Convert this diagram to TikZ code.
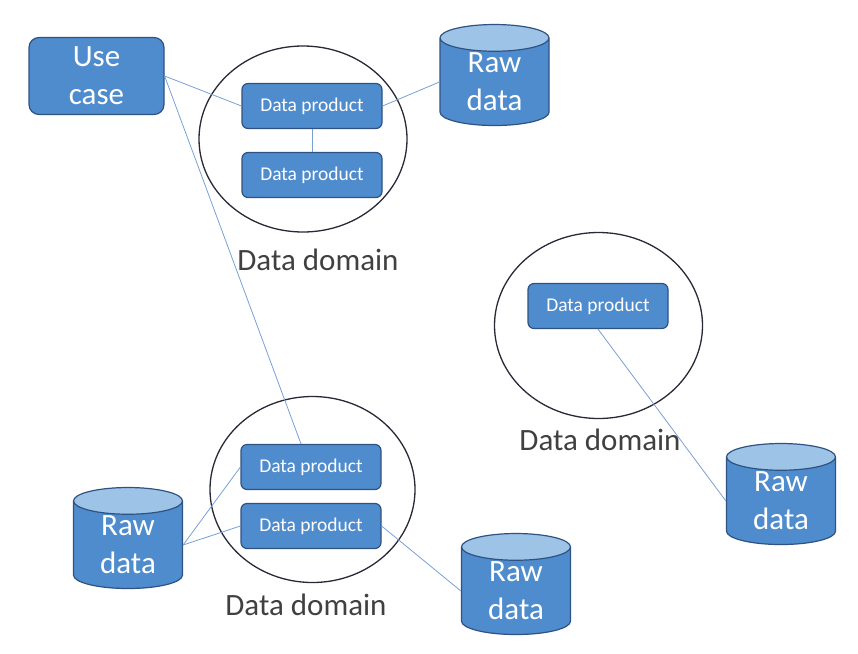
\documentclass[tikz,border=0pt]{standalone}
\usepackage{fontspec}
\setmainfont{Carlito}
\usepackage{xcolor}
\definecolor{prodblue}{RGB}{79,140,205}
\definecolor{edgeblue}{RGB}{47,82,130}
\definecolor{capblue}{RGB}{157,195,230}
\definecolor{linkblue}{RGB}{120,160,215}
\definecolor{ringgray}{RGB}{40,40,55}
\definecolor{labelgray}{RGB}{64,64,64}
\usetikzlibrary{shapes.geometric}

\begin{document}
\begin{tikzpicture}[x=1pt,y=-1pt,
  product/.style={draw=edgeblue, fill=prodblue, rounded corners=6pt, line width=1.2pt,
    minimum width=140pt, minimum height=45pt, text=white, inner sep=0pt,
    font=\fontsize{19.5}{23}\selectfont},
  usecase/.style={product, rounded corners=10pt, minimum width=135pt, minimum height=77pt,
    align=center, font=\fontsize{31}{38}\selectfont},
  rawdata/.style={cylinder, shape border rotate=90, aspect=0.48, draw=edgeblue,
    line width=1.2pt, cylinder uses custom fill, cylinder body fill=prodblue,
    cylinder end fill=capblue, minimum width=109pt, minimum height=101pt,
    inner sep=0pt, text=white, align=center, font=\fontsize{31}{38}\selectfont},
  dombubble/.style={ellipse, draw=ringgray, line width=1.3pt, inner sep=0pt,
    minimum width=208pt, minimum height=186pt},
  domlabel/.style={anchor=base, text=labelgray, font=\fontsize{31}{38}\selectfont},
  link/.style={draw=linkblue, line width=0.8pt}]
  \useasboundingbox (0,0) rectangle (858,653);

  \node[dombubble] (dom1) at (303,139) {};
  \node[dombubble] (dom2) at (598.5,325.5) {};
  \node[dombubble, minimum width=205pt] (dom3) at (312.5,489.5) {};

  \node[usecase] (uc) at (96.5,76) {Use\\case};

  \node[product] (dp1) at (312,106) {Data product};
  \node[product] (dp2) at (312,175) {Data product};
  \node[product] (dp3) at (598,306) {Data product};
  \node[product] (dpa) at (311,467) {Data product};
  \node[product] (dpb) at (311,526) {Data product};

  \node[domlabel] (lab1) at (318,270) {Data domain};
  \node[domlabel] (lab2) at (600,450) {Data domain};
  \node[domlabel] (lab3) at (306,615) {Data domain};

  \node[rawdata] (raw1) at (494.5,82) {Raw\\data};
  \node[rawdata] (raw2) at (781,501) {Raw\\data};
  \node[rawdata] (rawl) at (128,545) {Raw\\data};
  \node[rawdata] (rawb) at (516,591) {Raw\\data};

  \path[link] (uc.east) -- (dp1.west);
  \path[link] (uc.east) -- ([xshift=-10pt]dpa.north);
  \path[link] (dp1.south) -- (dp2.north);
  \path[link] (dp1.east) -- (raw1.west);
  \path[link] (dp3.south) -- (raw2.west);
  \path[link] (rawl.east) -- (dpa.west);
  \path[link] (rawl.east) -- (dpb.west);
  \path[link] (dpb.east) -- (rawb.west);
\end{tikzpicture}
\end{document}
